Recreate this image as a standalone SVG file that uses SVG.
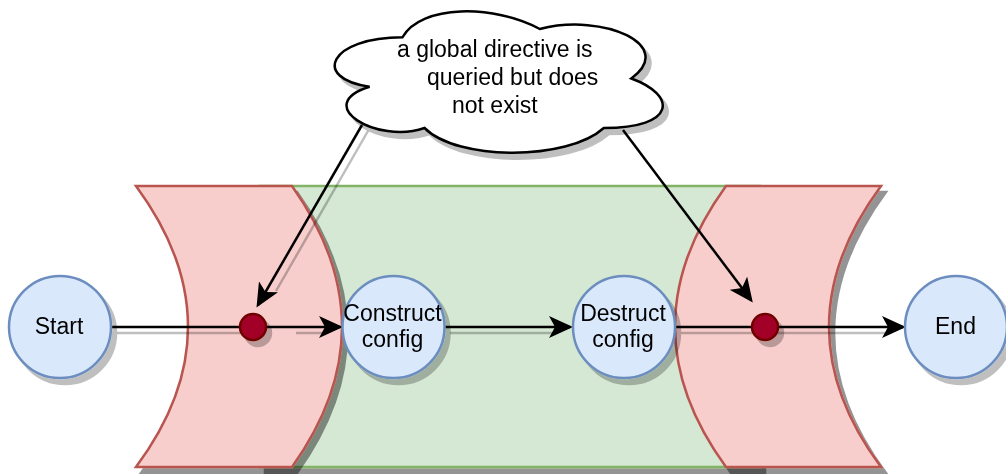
<svg xmlns="http://www.w3.org/2000/svg" width="1006" height="474" viewBox="0 0 1006 474">
  <defs>
    <filter id="shadowDark" x="-10%" y="-10%" width="130%" height="130%">
      <feOffset in="SourceAlpha" dx="5" dy="6" result="off"/>
      <feFlood flood-color="#000" flood-opacity="0.42"/>
      <feComposite in2="off" operator="in" result="sh"/>
      <feMerge><feMergeNode in="sh"/><feMergeNode in="SourceGraphic"/></feMerge>
    </filter>
    <filter id="shadowLight" x="-20%" y="-20%" width="150%" height="150%">
      <feOffset in="SourceAlpha" dx="5" dy="6" result="off"/>
      <feFlood flood-color="#000" flood-opacity="0.25"/>
      <feComposite in2="off" operator="in" result="sh"/>
      <feMerge><feMergeNode in="sh"/><feMergeNode in="SourceGraphic"/></feMerge>
    </filter>
    <marker id="arrow" viewBox="0 0 24 22" refX="21" refY="11" markerWidth="24" markerHeight="22" markerUnits="userSpaceOnUse" orient="auto">
      <path d="M0,0 L24,11 L0,22 L6,11 Z" fill="#000"/>
    </marker>
    <style>
      .phase { fill: #d5e8d4; stroke: #82b366; stroke-width: 2.5; }
      .guard { fill: #f8cecc; stroke: #b85450; stroke-width: 2.5; }
      .state { fill: #dae8fc; stroke: #6c8ebf; stroke-width: 2.5; }
      .point { fill: #a20025; stroke: #6f0000; stroke-width: 2.5; }
      .cloud { fill: #fff; stroke: #000; stroke-width: 2.5; }
      .edge { fill: none; stroke: #000; stroke-width: 2.5; }
      .edge-shadow { fill: none; stroke: #000; stroke-opacity: 0.25; stroke-width: 2.5; }
      .label { font-family: "Liberation Sans", Arial, sans-serif; font-size: 23px; fill: #000; }
      .mid { text-anchor: middle; }
    </style>
  </defs>

  <!-- configuration lifetime -->
  <g id="lifetime" filter="url(#shadowDark)">
    <rect class="phase" x="260" y="186" width="500" height="281"/>
  </g>

  <!-- guard zones around construction and destruction -->
  <g id="guard-construct" filter="url(#shadowDark)">
    <path class="guard" d="M136,186 L292,186 Q392,327 292,467 L136,467 Q240,327 136,186 Z"/>
  </g>
  <g id="guard-destruct" filter="url(#shadowDark)">
    <path class="guard" d="M726,186 L881,186 Q777,327 881,467 L726,467 Q624,327 726,186 Z"/>
  </g>

  <!-- connectors -->
  <g id="connectors">
    <line class="edge-shadow" x1="117" y1="333" x2="246" y2="333"/>
    <line class="edge-shadow" x1="296" y1="333" x2="326" y2="333"/>
    <line class="edge-shadow" x1="450" y1="333" x2="552" y2="333"/>
    <line class="edge-shadow" x1="681" y1="333" x2="885" y2="333"/>
    <line class="edge-shadow" x1="368" y1="131" x2="276" y2="291"/>

    <line class="edge" x1="111" y1="327" x2="340" y2="327" marker-end="url(#arrow)"/>
    <line class="edge" x1="445" y1="327" x2="570" y2="327" marker-end="url(#arrow)"/>
    <line class="edge" x1="676" y1="327" x2="903" y2="327" marker-end="url(#arrow)"/>
    <line class="edge" x1="362" y1="125" x2="258" y2="305" marker-end="url(#arrow)"/>
    <line class="edge" x1="623" y1="130" x2="751" y2="300" marker-end="url(#arrow)"/>
  </g>

  <!-- check points -->
  <g id="check-construct" filter="url(#shadowLight)">
    <circle class="point" cx="253" cy="327" r="13"/>
  </g>
  <g id="check-destruct" filter="url(#shadowLight)">
    <circle class="point" cx="765" cy="327" r="13"/>
  </g>

  <!-- states -->
  <g id="start" filter="url(#shadowLight)">
    <circle class="state" cx="60" cy="327" r="51"/>
    <text class="label mid" x="59" y="334">Start</text>
  </g>
  <g id="construct-config" filter="url(#shadowLight)">
    <circle class="state" cx="393.5" cy="327" r="51"/>
    <text class="label mid" x="392.5" y="321">Construct</text>
    <text class="label mid" x="392.5" y="347">config</text>
  </g>
  <g id="destruct-config" filter="url(#shadowLight)">
    <circle class="state" cx="624" cy="327" r="51"/>
    <text class="label mid" x="623" y="321">Destruct</text>
    <text class="label mid" x="623" y="347">config</text>
  </g>
  <g id="end" filter="url(#shadowLight)">
    <circle class="state" cx="956" cy="327" r="51"/>
    <text class="label mid" x="955.5" y="334">End</text>
  </g>

  <!-- note -->
  <g id="note" filter="url(#shadowLight)">
    <path class="cloud" d="M402.5,37.25 C329.3,37.25 311,78.5 369.6,86.75 C311,104.9 376.9,144.5 424.5,128 C457.4,161 567.2,161 603.8,128 C677,128 677,95 631.3,78.5 C677,45.5 603.8,12.5 539.8,29 C494,4.25 420.8,4.25 402.5,37.25 Z"/>
    <text class="label" x="397" y="57">a global directive is</text>
    <text class="label" x="427" y="85">queried but does</text>
    <text class="label" x="452" y="113">not exist</text>
  </g>
</svg>
